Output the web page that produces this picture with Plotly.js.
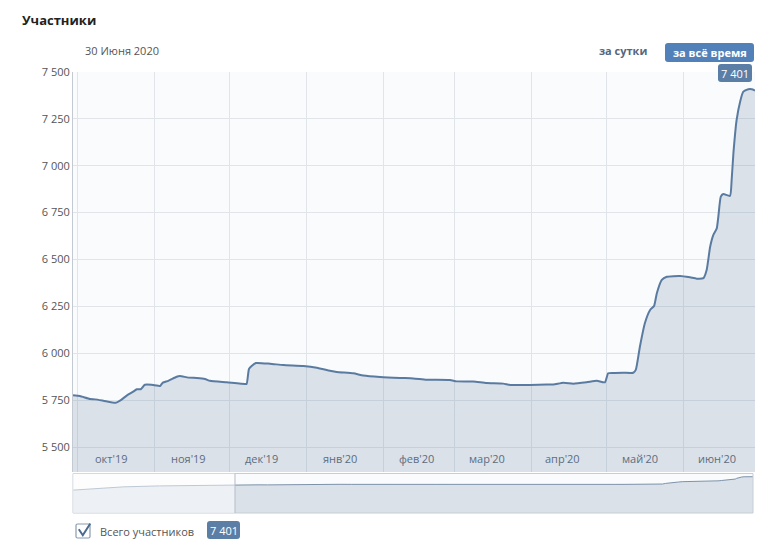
<!DOCTYPE html>
<html><head><meta charset="utf-8">
<script src="https://cdn.plot.ly/plotly-3.0.1.min.js"></script>
<style>html,body{margin:0;padding:0;background:#fff;}#chart{width:777px;height:552px;}</style>
</head><body><div id="chart"></div>
<script>
// ---- data ----
const dates = [
"2019-09-29 00:00","2019-10-01 18:00","2019-10-05 20:00","2019-10-07 22:00","2019-10-11 05:00",
"2019-10-16 06:00","2019-10-17 23:00","2019-10-20 16:00","2019-10-23 07:00","2019-10-24 17:00",
"2019-10-26 07:00","2019-10-28 00:00","2019-11-02 10:00","2019-11-03 02:00","2019-11-04 05:00",
"2019-11-06 10:00","2019-11-09 19:00","2019-11-11 02:00","2019-11-14 12:00","2019-11-17 22:00",
"2019-11-21 05:00","2019-11-23 05:00","2019-11-30 00:00","2019-12-07 08:00","2019-12-08 00:00",
"2019-12-08 23:00","2019-12-10 01:00","2019-12-11 19:00","2019-12-17 10:00","2019-12-22 19:00",
"2019-12-30 22:00","2020-01-05 07:00","2020-01-10 14:00","2020-01-13 07:00","2020-01-20 00:00",
"2020-01-24 02:00","2020-01-30 19:00","2020-02-07 22:00","2020-02-13 05:00","2020-02-18 14:00",
"2020-02-28 00:00","2020-03-01 17:00","2020-03-08 10:00","2020-03-13 19:00","2020-03-20 12:00",
"2020-03-23 05:00","2020-03-31 07:00","2020-04-07 00:00","2020-04-09 17:00","2020-04-13 17:00",
"2020-04-17 17:00","2020-04-23 02:00","2020-04-27 05:00","2020-04-30 12:00","2020-05-01 19:00",
"2020-05-03 22:00","2020-05-07 22:00","2020-05-11 22:00","2020-05-12 22:00","2020-05-14 14:00",
"2020-05-16 14:00","2020-05-18 17:00","2020-05-20 07:00","2020-05-21 10:00","2020-05-23 10:00",
"2020-05-25 10:00","2020-05-30 19:00","2020-06-03 19:00","2020-06-06 12:00","2020-06-09 05:00",
"2020-06-10 12:00","2020-06-11 22:00","2020-06-13 05:00","2020-06-14 14:00","2020-06-15 05:00",
"2020-06-16 05:00","2020-06-17 05:00","2020-06-19 22:00","2020-06-20 14:00","2020-06-21 07:00",
"2020-06-22 14:00","2020-06-24 00:00","2020-06-25 07:00","2020-06-27 07:00","2020-06-28 17:00",
"2020-06-30 00:00"];
const members = [
5776,5772,5756,5754,5747,
5736,5747,5774,5795,5808,
5808,5832,5827,5825,5843,
5853,5875,5879,5870,5868,
5863,5853,5845,5836,5836,
5916,5932,5948,5944,5937,
5932,5923,5907,5900,5893,
5881,5873,5868,5866,5859,
5857,5850,5849,5841,5838,
5831,5831,5833,5833,5843,
5838,5845,5853,5845,5893,
5895,5896,5896,5911,6035,
6160,6231,6252,6320,6391,
6408,6412,6405,6398,6401,
6444,6568,6631,6666,6728,
6835,6849,6839,6924,7066,
7244,7342,7395,7408,7408,
7401];
// earlier history shown only in the navigator strip
const historyDates = ["2019-07-05","2019-08-01","2019-08-20","2019-09-14"];
const historyMembers = [4670,5340,5530,5700];

const monthStarts = ["2019-10-01","2019-11-01","2019-12-01","2020-01-01","2020-02-01","2020-03-01","2020-04-01","2020-05-01","2020-06-01"];
const monthLabelDates = ["2019-10-14 12:00","2019-11-14 12:00","2019-12-14 00:00","2020-01-14 12:00","2020-02-14 12:00","2020-03-14 00:00","2020-04-13 12:00","2020-05-14 12:00","2020-06-14 12:00"];
const monthLabels = ["окт'19","ноя'19","дек'19","янв'20","фев'20","мар'20","апр'20","май'20","июн'20"];
const yTicks = [5500,5750,6000,6250,6500,6750,7000,7250,7500];
const yTickLabels = ["5 500","5 750","6 000","6 250","6 500","6 750","7 000","7 250","7 500"];
const titleText = "Участники";
const dateText = "30 Июня 2020";
const btnDay = "за сутки";
const btnAll = "за всё время";
const seriesName = "Всего участников";

// ---- helpers ----
function fmt(v){ return String(v).replace(/\B(?=(\d{3})+(?!\d))/g,' '); }
const W=777,H=552,L=73,R=22,T=72,B=39;
const pw=W-L-R, ph=H-T-B;
const PX=x=>(x-L)/pw, PY=y=>(H-B-y)/ph;
const FONT="Open Sans, Noto Sans, sans-serif";
const lastVal = fmt(members[members.length-1]);

function rrect(x0,y0,x1,y1,r,fill,line){
  const a=PX(x0),b=PX(x1),top=PY(y0),bot=PY(y1),rx=r/pw,ry=r/ph;
  const p='M '+(a+rx)+' '+top+' L '+(b-rx)+' '+top+' Q '+b+' '+top+' '+b+' '+(top-ry)+
    ' L '+b+' '+(bot+ry)+' Q '+b+' '+bot+' '+(b-rx)+' '+bot+
    ' L '+(a+rx)+' '+bot+' Q '+a+' '+bot+' '+a+' '+(bot+ry)+
    ' L '+a+' '+(top-ry)+' Q '+a+' '+top+' '+(a+rx)+' '+top+' Z';
  return {type:'path',xref:'paper',yref:'paper',path:p,fillcolor:fill,line:line||{width:0},layer:'above'};
}
function txt(x,y,t,opt){
  return Object.assign({xref:'paper',yref:'paper',x:PX(x),y:PY(y),text:t,showarrow:false,
    xanchor:'center',yanchor:'middle',font:{family:FONT,size:11,color:'#555'}},opt||{});
}

const traces = [
  {x:dates,y:members,type:'scatter',mode:'lines',xaxis:'x',yaxis:'y',
   line:{color:'#5a7ba1',width:2,shape:'spline',smoothing:0.5},
   fill:'tozeroy',fillcolor:'rgba(91,123,161,0.2)',hoverinfo:'skip'},
  {x:historyDates.concat(dates),y:historyMembers.concat(members),type:'scatter',mode:'lines',
   xaxis:'x2',yaxis:'y2',line:{color:'#7d92aa',width:1},
   fill:'tozeroy',fillcolor:'rgba(91,123,161,0.2)',hoverinfo:'skip'}
];

const shapes = [
  {type:'rect',xref:'x2 domain',yref:'y2 domain',x0:0,x1:1,y0:0,y1:1,line:{color:'#c6cdd5',width:1},layer:'above'},
  {type:'rect',xref:'x2',yref:'y2 domain',x0:historyDates[0],x1:dates[0],y0:0,y1:1,
   fillcolor:'rgba(255,255,255,0.5)',line:{width:0},layer:'above'},
  {type:'line',xref:'x2',yref:'y2 domain',x0:dates[0],x1:dates[0],y0:0,y1:1,line:{color:'#b4bec9',width:1},layer:'above'},
  rrect(665,43,754,62,3,'#5181b8'),
  rrect(718,64,752,82,3,'#5b7ea6'),
  rrect(207,521,240,539,3,'#5b7ea6'),
  rrect(76,524,90,538,1.5,'#ffffff',{color:'#8a9cb0',width:1.2}),
  {type:'path',xref:'paper',yref:'paper',layer:'above',
   path:'M '+PX(78.8)+' '+PY(529.3)+' L '+PX(82.8)+' '+PY(535.2)+' L '+PX(90.3)+' '+PY(523.5),
   line:{color:'#4a6a90',width:2}}
];

const annotations = [
  txt(20,20,'<b>'+titleText+'</b>',{xanchor:'left',font:{family:FONT,size:13,color:'#222'}}),
  txt(83,50,dateText,{xanchor:'left',font:{family:FONT,size:11,color:'#555'}}),
  txt(623,51,'<b>'+btnDay+'</b>',{font:{family:FONT,size:11,color:'#55677d'}}),
  txt(709.5,52.5,'<b>'+btnAll+'</b>',{font:{family:FONT,size:11,color:'#ffffff'}}),
  txt(735,73,lastVal,{font:{family:FONT,size:11,color:'#ffffff'}}),
  txt(98,531,seriesName,{xanchor:'left',font:{family:FONT,size:11,color:'#555'}}),
  txt(223.5,530,lastVal,{font:{family:FONT,size:11,color:'#ffffff'}})
];
monthLabels.forEach((m,i)=>{
  annotations.push({xref:'x',yref:'paper',x:monthLabelDates[i],y:PY(458.5),text:m,showarrow:false,
    xanchor:'center',yanchor:'middle',font:{family:FONT,size:11,color:'#5c6d80'}});
});

const layout = {
  width:W,height:H,margin:{l:L,r:R,t:T,b:B,pad:0},
  paper_bgcolor:'#ffffff',plot_bgcolor:'#fafbfc',showlegend:false,
  font:{family:FONT,size:11,color:'#555'},
  xaxis:{type:'date',domain:[0,1],anchor:'y',range:[dates[0],dates[dates.length-1]],
    tickmode:'array',tickvals:monthStarts,showticklabels:false,ticks:'',
    showgrid:true,gridcolor:'#e1e5e9',gridwidth:1,zeroline:false,showline:false,fixedrange:true},
  yaxis:{domain:[PY(472),1],anchor:'x',range:[5366.7,7500],tickmode:'array',tickvals:yTicks,ticktext:yTickLabels,
    ticks:'',showgrid:true,gridcolor:'#e1e5e9',gridwidth:1,zeroline:false,showline:true,linecolor:'#c3cad2',linewidth:1,
    tickfont:{family:FONT,size:11,color:'#555'},fixedrange:true},
  xaxis2:{type:'date',domain:[0,PX(753)],anchor:'y2',range:[historyDates[0],dates[dates.length-1]],
    showgrid:false,showticklabels:false,ticks:'',zeroline:false,showline:false,fixedrange:true},
  yaxis2:{domain:[0,PY(473.5)],anchor:'x2',range:[0,8060],showgrid:false,showticklabels:false,ticks:'',
    zeroline:false,showline:false,fixedrange:true},
  shapes:shapes,annotations:annotations
};
Plotly.newPlot('chart',traces,layout,{displayModeBar:false,staticPlot:true});
</script></body></html>
